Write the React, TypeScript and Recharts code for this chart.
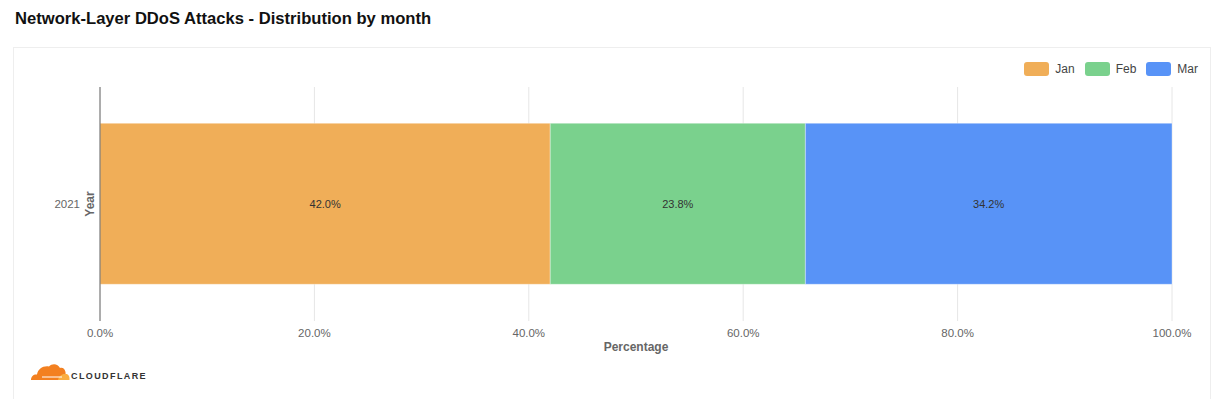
import React from 'react';
import { BarChart, Bar, XAxis, YAxis, CartesianGrid, LabelList, Customized } from 'recharts';

const years = ['2021'];
const janValues = [42.0];
const febValues = [23.8];
const marValues = [34.2];
const xTicks = [0, 20, 40, 60, 80, 100];
const seriesNames = ['Jan', 'Feb', 'Mar'];
const seriesColors = ['#F0AE58', '#7AD18D', '#5893F7'];

const data = years.map((y, i) => ({ year: y, Jan: janValues[i], Feb: febValues[i], Mar: marValues[i] }));

const FONT = '"Liberation Sans", Arial, Helvetica, sans-serif';
const pct = (v: any) => `${Number(v).toFixed(1)}%`;

const LegendContent = () => (
  <div style={{ display: 'flex', justifyContent: 'flex-end', alignItems: 'center', fontFamily: FONT, fontSize: 12, color: '#444' }}>
    {seriesNames.map((n, i) => (
      <div key={n} style={{ display: 'flex', alignItems: 'center', marginLeft: 10 }}>
        <div style={{ width: 25, height: 14, borderRadius: 3, background: seriesColors[i], marginRight: 6 }} />
        <span>{n}</span>
      </div>
    ))}
  </div>
);

const BottomTick = (props: any) => {
  const { offset } = props;
  if (!offset) return null;
  const x = offset.left;
  const y = offset.top + offset.height;
  return <line x1={x - 4} x2={x} y1={y} y2={y} stroke="#666" strokeWidth={1} />;
};

export default function App() {
  return (
    <div style={{ position: 'absolute', left: 0, top: 0, width: 1221, height: 399, background: '#fff', overflow: 'hidden', fontFamily: FONT }}>
      <div style={{ position: 'absolute', left: 15, top: 9, fontSize: 16.6, fontWeight: 'bold', color: '#111', fontFamily: FONT }}>
        Network-Layer DDoS Attacks - Distribution by month
      </div>
      <div style={{ position: 'absolute', left: 13, top: 47, width: 1198, height: 380, border: '1px solid #eeeeee', boxSizing: 'border-box' }} />
      <div style={{ position: 'absolute', left: 0, top: 0 }}>
        <BarChart
          width={1221}
          height={399}
          data={data}
          layout="vertical"
          margin={{ top: 87, right: 49, bottom: 48, left: 80 }}
          barCategoryGap="15.5%"
        >
          <CartesianGrid horizontal={false} vertical={true} stroke="#e6e6e6" />
          <XAxis
            type="number"
            domain={[0, 100]}
            ticks={xTicks}
            tickFormatter={pct}
            axisLine={false}
            tickLine={false}
            height={30}
            tick={{ fontSize: 11.5, fill: '#666', fontFamily: FONT }}
            label={{ value: 'Percentage', position: 'insideBottom', offset: 0, fontSize: 12, fontWeight: 'bold', fill: '#666', fontFamily: FONT }}
          />
          <YAxis
            type="category"
            dataKey="year"
            width={20}
            axisLine={{ stroke: '#666' }}
            tickLine={false}
            tickMargin={14}
            tick={{ fontSize: 11.5, fill: '#666', fontFamily: FONT }}
            label={{ value: 'Year', angle: -90, position: 'center', dx: 0, fontSize: 12, fontWeight: 'bold', fill: '#666', fontFamily: FONT }}
          />
          {seriesNames.map((n, i) => (
            <Bar key={n} dataKey={n} stackId="a" fill={seriesColors[i]} stroke="rgba(255,255,255,0.35)" strokeWidth={1} isAnimationActive={false}>
              <LabelList dataKey={n} position="center" formatter={pct} style={{ fontSize: 11, fill: '#333', fontFamily: FONT }} />
            </Bar>
          ))}
          <Customized component={BottomTick} />
        </BarChart>
      </div>
      <div style={{ position: 'absolute', right: 23, top: 62 }}>
        <LegendContent />
      </div>
      <svg style={{ position: 'absolute', left: 28, top: 358 }} width={130} height={30}>
        <path d="M3 22 C3 18 6 16 9 16.5 C10 11 15 7.5 21 8.5 C24 5 30 5.5 32 10 C34 9 37 10.5 37.5 14 C38 16.5 37 19.5 36 22 Z" fill="#F38020" />
        <path d="M30 22 C31 18 34 15.5 37.5 16 C40 15.5 42 18 41.5 22 Z" fill="#FAAE40" />
        <line x1={14} y1={19} x2={34} y2={19} stroke="#fff" strokeWidth={1} />
        <text x={43} y={21} fontSize={9} fontWeight="bold" fill="#333" letterSpacing={1.4} fontFamily={FONT}>CLOUDFLARE</text>
      </svg>
    </div>
  );
}
